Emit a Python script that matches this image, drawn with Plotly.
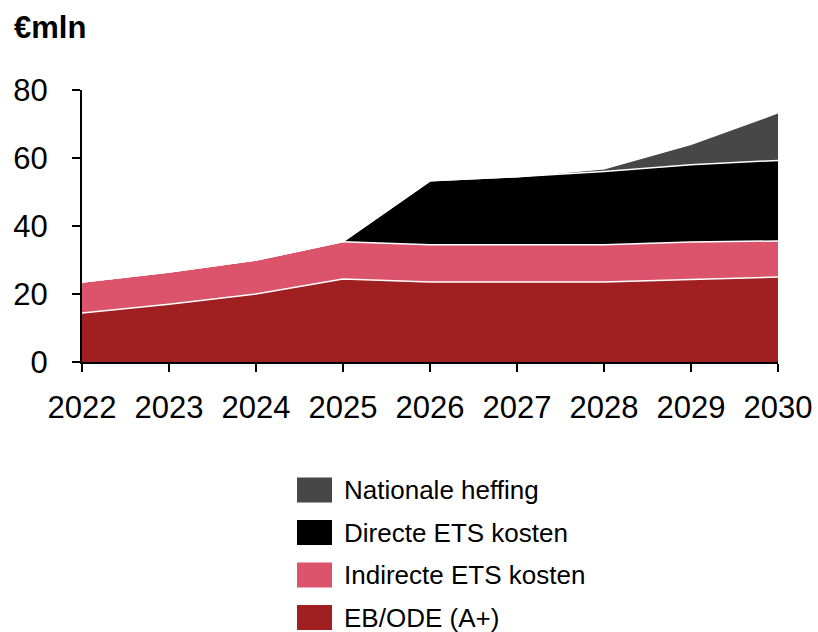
import plotly.graph_objects as go

years = [2022, 2023, 2024, 2025, 2026, 2027, 2028, 2029, 2030]
eb_ode = [14.4, 17.0, 20.0, 24.4, 23.5, 23.5, 23.5, 24.3, 25.0]
indirecte_ets = [9.1, 9.5, 10.0, 11.0, 11.0, 11.0, 11.0, 11.0, 10.6]
directe_ets = [0, 0, 0, 0, 18.8, 20.0, 21.5, 22.7, 23.7]
nationale_heffing = [0, 0, 0, 0, 0, 0, 0.8, 6.0, 14.0]

series = [
    ("EB/ODE (A+)", eb_ode, "#a01f21"),
    ("Indirecte ETS kosten", indirecte_ets, "#db546c"),
    ("Directe ETS kosten", directe_ets, "#000000"),
    ("Nationale heffing", nationale_heffing, "#474747"),
]

FONT = "Liberation Sans, Arial, sans-serif"

fig = go.Figure()
for name, vals, col in series:
    fig.add_trace(go.Scatter(
        x=years, y=vals, name=name, mode="lines",
        stackgroup="one", fillcolor=col,
        line=dict(color="white", width=1.5),
        showlegend=False,
    ))

# legend drawn by hand so the swatches are big squares like the original
shapes = []
annotations = []
for i, (name, vals, col) in enumerate(reversed(series)):
    cy = 490 + i * 42.5  # pixel centre of the legend row
    y0 = (362 - (cy + 12.5)) / 272
    y1 = (362 - (cy - 12.5)) / 272
    shapes.append(dict(type="rect", xref="paper", yref="paper",
                       x0=(297 - 82) / 696, x1=(332 - 82) / 696, y0=y0, y1=y1,
                       fillcolor=col, line=dict(width=0)))
    annotations.append(dict(text=name, xref="paper", yref="paper",
                            x=(342 - 82) / 696, y=(362 - cy) / 272,
                            xanchor="left", yanchor="middle", showarrow=False,
                            font=dict(size=26, color="black", family=FONT)))

annotations.append(dict(text="<b>€mln</b>", xref="paper", yref="paper",
                        x=-(82 - 12) / 696, y=(362 - 28) / 272,
                        xanchor="left", yanchor="middle", showarrow=False,
                        font=dict(size=31, color="black", family=FONT)))

fig.update_layout(
    width=818, height=632,
    margin=dict(l=82, r=40, t=90, b=270),
    paper_bgcolor="white", plot_bgcolor="white",
    font=dict(family=FONT, size=31, color="black"),
    shapes=shapes, annotations=annotations,
    xaxis=dict(range=[2022, 2030], tickvals=years, ticks="outside", ticklen=8,
               tickwidth=2, tickcolor="black", showline=True, linewidth=2,
               linecolor="black", showgrid=False, zeroline=False,
               ticklabelstandoff=9, automargin=False),
    yaxis=dict(range=[0, 80], tickvals=[0, 20, 40, 60, 80], ticks="outside",
               ticklen=8, tickwidth=2, tickcolor="black", showline=True,
               linewidth=2, linecolor="black", showgrid=False, zeroline=False,
               ticklabelstandoff=18, automargin=False),
)

# drop the browser's default body margin so the figure fills the window
fig.write_html("out.html", config={"displayModeBar": False},
               post_script="document.body.style.margin='0';document.body.style.overflow='hidden';")
